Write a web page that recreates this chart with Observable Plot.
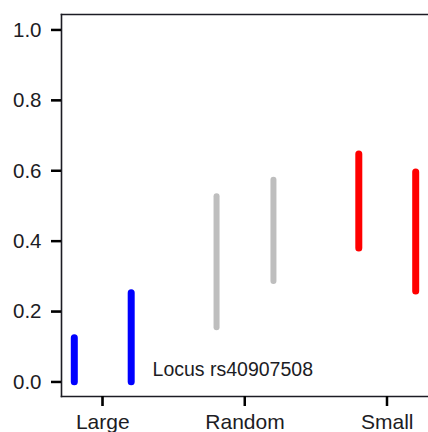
<!DOCTYPE html>
<html><head><meta charset="utf-8">
<script src="https://cdn.jsdelivr.net/npm/d3@7"></script>
<script src="https://cdn.jsdelivr.net/npm/@observablehq/plot@0.6"></script>
<style>html,body{margin:0;padding:0;background:#fff} svg{display:block}</style>
</head><body><div id="chart"></div>
<script>
const categories = ["Large", "Random", "Small"];
const colors = ["#0000ff", "#bebebe", "#ff0000"];
// two intervals per category (left, right)
const lowLeft = [0.0, 0.155, 0.380];
const highLeft = [0.125, 0.527, 0.647];
const lowRight = [0.0, 0.286, 0.258];
const highRight = [0.253, 0.574, 0.596];
const yTicks = [0.0, 0.2, 0.4, 0.6, 0.8, 1.0];
const xTicks = [0, 1, 2];
const annotation = "Locus rs40907508";

const W = 428, H = 432, mL = 61, mR = 0, mT = 14, mB = 36, tick = 10;
const offset = 0.2;
const rows = [];
categories.forEach((c, i) => {
  rows.push({pos: i - offset, low: lowLeft[i], high: highLeft[i], color: colors[i], w: i === 1 ? 6 : 7});
  rows.push({pos: i + offset, low: lowRight[i], high: highRight[i], color: colors[i], w: i === 1 ? 6 : 7});
});

const ink = "#1c1c24";
const chart = Plot.plot({
  width: W,
  height: H,
  marginLeft: mL,
  marginRight: mR,
  marginTop: mT,
  marginBottom: mB,
  style: {fontFamily: "'Liberation Sans', Arial, sans-serif", background: "#fff", color: ink},
  x: {domain: [-0.29, 2.29], axis: null},
  y: {domain: [-0.0406, 1.0446], axis: null},
  color: {type: "identity"},
  marks: [
    Plot.frame({anchor: "top", stroke: ink, strokeWidth: 1.6}),
    Plot.frame({anchor: "left", stroke: ink, strokeWidth: 1.6}),
    Plot.frame({anchor: "bottom", stroke: ink, strokeWidth: 1.6}),
    Plot.axisY({ticks: yTicks, tickFormat: d3.format(".1f"), tickSize: tick, tickPadding: 10, fontSize: 20.5, label: null, stroke: "#000", strokeWidth: 2}),
    Plot.axisX({ticks: xTicks, tickFormat: i => categories[i], tickSize: tick, tickPadding: 8, fontSize: 21, label: null, stroke: "#000", strokeWidth: 2}),
    Plot.ruleX(rows, {x: "pos", y1: "low", y2: "high", stroke: "color", strokeWidth: "w", strokeLinecap: "round"}),
    Plot.text([annotation], {x: 0.35, y: 0.034, text: d => d, textAnchor: "start", fontSize: 19.5, fill: ink})
  ]
});

// extra tick marks placed with Plot's own scales
const svgEl = chart.tagName.toLowerCase() === "svg" ? chart : chart.querySelector("svg");
const ys = chart.scale("y"), xs = chart.scale("x");
const g = d3.select(svgEl).append("g").attr("stroke", "#000").attr("stroke-width", 2);
g.selectAll("line.yt").data(yTicks).join("line").attr("class", "yt")
  .attr("x1", mL - tick).attr("x2", mL)
  .attr("y1", d => ys.apply(d)).attr("y2", d => ys.apply(d));
g.selectAll("line.xt").data(xTicks).join("line").attr("class", "xt")
  .attr("x1", d => xs.apply(d)).attr("x2", d => xs.apply(d))
  .attr("y1", H - mB).attr("y2", H - mB + tick);

document.getElementById("chart").append(chart);
</script>
</body></html>
